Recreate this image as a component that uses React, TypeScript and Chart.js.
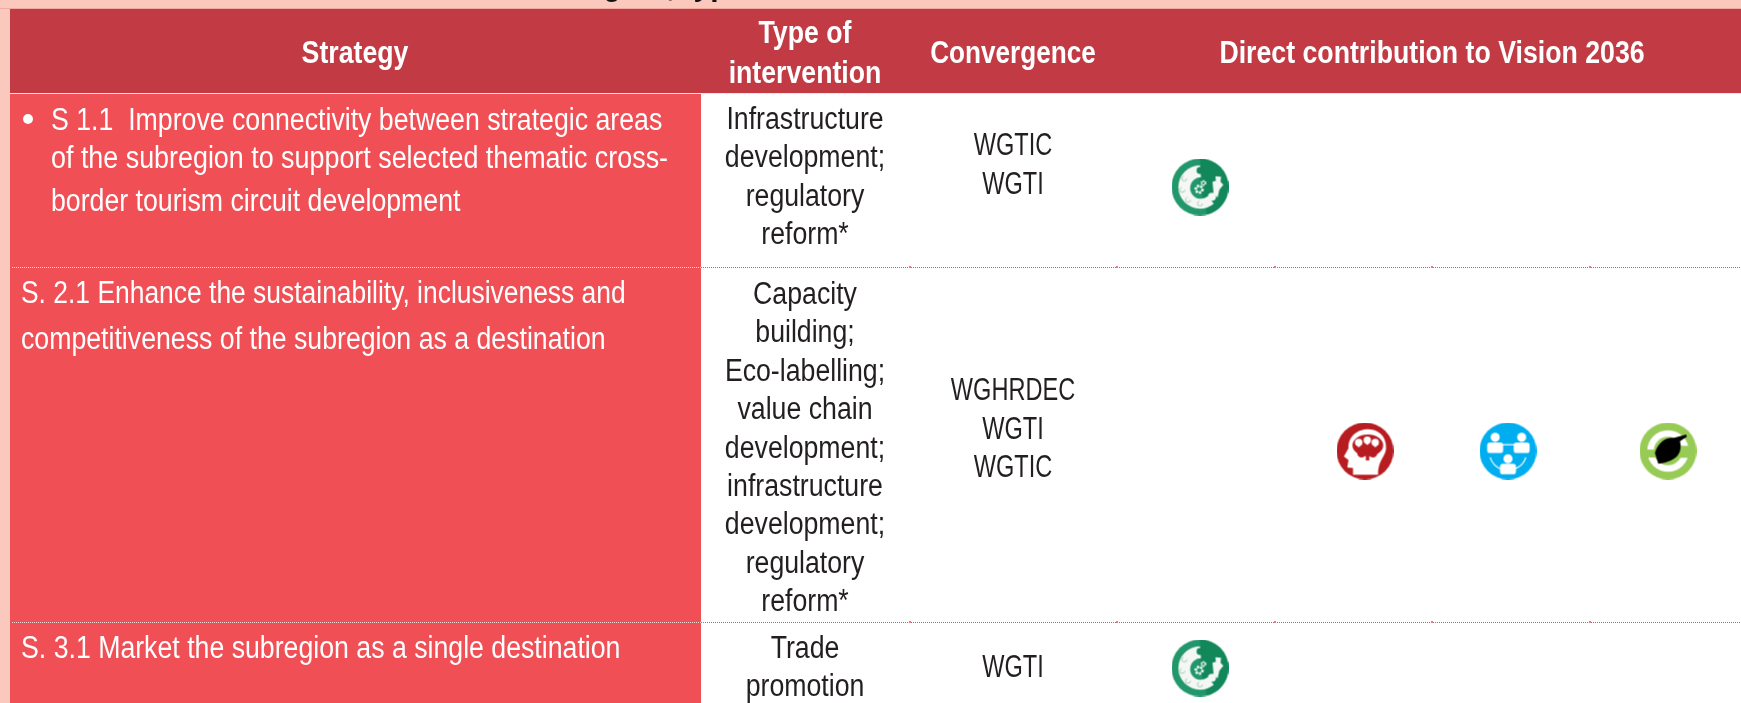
import React, { useEffect, useRef } from "react";
import { Chart, registerables } from "chart.js";
Chart.register(...registerables);

const headerStrategy = "Strategy";
const headerType = ["Type of", "intervention"];
const headerConvergence = "Convergence";
const headerVision = "Direct contribution to Vision 2036";
const clippedTitle = "subregion, type";

const strategyRow1 = [
  "S 1.1  Improve connectivity between strategic areas",
  "of the subregion to support selected thematic cross-",
  "border tourism circuit development",
];
const strategyRow2 = [
  "S. 2.1 Enhance the sustainability, inclusiveness and",
  "competitiveness of the subregion as a destination",
];
const strategyRow3 = ["S. 3.1 Market the subregion as a single destination"];

const typeRow1 = ["Infrastructure", "development;", "regulatory", "reform*"];
const typeRow2 = ["Capacity", "building;", "Eco-labelling;", "value chain", "development;", "infrastructure", "development;", "regulatory", "reform*"];
const typeRow3 = ["Trade", "promotion"];

const convergenceRow1 = ["WGTIC", "WGTI"];
const convergenceRow2 = ["WGHRDEC", "WGTI", "WGTIC"];
const convergenceRow3 = ["WGTI"];

const goalEconomy = [{ x: 1200, y: 187 }, { x: 1200, y: 668 }];
const goalHuman = [{ x: 1365, y: 451 }];
const goalSocial = [{ x: 1508, y: 451 }];
const goalEnvironment = [{ x: 1668, y: 451 }];

const W = 1741;
const H = 703;
const SANS = '"Liberation Sans", sans-serif';
const BODY = `31px ${SANS}`;
const BOLD = `bold 31px ${SANS}`;
const HSCALE = 0.861;
const CAPS_HSCALE = 0.76;
const ICON_R = 28.5;
const TICKS = [910, 1117, 1275, 1432, 1590];

function makeIcon(paint: (c: CanvasRenderingContext2D, R: number) => void) {
  const cv = document.createElement("canvas");
  const size = Math.ceil(ICON_R * 2);
  cv.width = size;
  cv.height = size;
  const c = cv.getContext("2d")!;
  c.translate(size / 2, size / 2);
  paint(c, ICON_R);
  return cv;
}
function disc(c: CanvasRenderingContext2D, x: number, y: number, r: number, col: string) {
  c.fillStyle = col;
  c.beginPath();
  c.arc(x, y, r, 0, Math.PI * 2);
  c.fill();
}
function gear(c: CanvasRenderingContext2D, x: number, y: number, r: number) {
  c.strokeStyle = "#fff";
  c.lineWidth = r * 0.55;
  c.setLineDash([r * 0.55, r * 0.45]);
  c.beginPath();
  c.arc(x, y, r, 0, Math.PI * 2);
  c.stroke();
  c.setLineDash([]);
  c.lineWidth = 1;
  c.beginPath();
  c.arc(x, y, r * 0.75, 0, Math.PI * 2);
  c.stroke();
}
const paintEconomy = (c: CanvasRenderingContext2D, R: number) => {
  disc(c, 0, 0, R, "#21976B");
  c.fillStyle = "#12875A";
  c.beginPath();
  c.arc(0, 0, R, -Math.PI / 2, Math.PI * 0.42);
  c.lineTo(0, 0);
  c.closePath();
  c.fill();
  c.fillStyle = "#F4F7F3";
  c.beginPath();
  c.arc(0, 0, R * 0.76, -Math.PI / 2, Math.PI * 0.28, true);
  c.arc(1, 1, R * 0.38, Math.PI * 0.28, -Math.PI / 2);
  c.closePath();
  c.fill();
  disc(c, 0, -R * 0.58, R * 0.12, "#12875A");
  c.fillStyle = "#F4F7F3";
  c.beginPath();
  c.moveTo(R * 0.44, -R * 0.18);
  c.lineTo(R * 0.56, -R * 0.22);
  c.lineTo(R * 0.54, -R * 0.38);
  c.lineTo(R * 0.74, -R * 0.36);
  c.lineTo(R * 0.72, -R * 0.18);
  c.lineTo(R * 0.82, -R * 0.08);
  c.lineTo(R * 0.68, R * 0.1);
  c.lineTo(R * 0.62, R * 0.36);
  c.lineTo(R * 0.48, R * 0.26);
  c.closePath();
  c.fill();
  disc(c, R * 0.42, R * 0.34, R * 0.14, "#F4F7F3");
  c.strokeStyle = "#A9CDBA";
  c.lineWidth = 1;
  [[-0.55, -0.3], [-0.62, 0.1], [-0.42, 0.45], [0, 0.58]].forEach(([a, b]) => {
    c.beginPath();
    c.arc(a * R, b * R, 2.5, 0, Math.PI * 1.4);
    c.stroke();
  });
  gear(c, -R * 0.03, R * 0.08, R * 0.13);
  gear(c, R * 0.12, -R * 0.14, R * 0.08);
};
const paintHuman = (c: CanvasRenderingContext2D, R: number) => {
  disc(c, 0, 0, R, "#B71C20");
  c.fillStyle = "#fff";
  c.beginPath();
  c.moveTo(-R * 0.42, R * 0.83);
  c.lineTo(-R * 0.42, R * 0.6);
  c.lineTo(-R * 0.62, R * 0.58);
  c.lineTo(-R * 0.58, R * 0.32);
  c.lineTo(-R * 0.74, R * 0.19);
  c.lineTo(-R * 0.58, -R * 0.1);
  c.bezierCurveTo(-R * 0.6, -R * 0.95, R * 0.76, -R * 1.0, R * 0.74, -R * 0.12);
  c.bezierCurveTo(R * 0.74, R * 0.2, R * 0.46, R * 0.3, R * 0.46, R * 0.83);
  c.closePath();
  c.fill();
  c.fillStyle = "#B71C20";
  c.beginPath();
  c.ellipse(R * 0.1, -R * 0.2, R * 0.54, R * 0.38, 0, 0, Math.PI * 2);
  c.fill();
  disc(c, -R * 0.12, R * 0.08, R * 0.15, "#B71C20");
  disc(c, R * 0.28, R * 0.08, R * 0.15, "#B71C20");
  c.fillRect(R * 0.03, R * 0.05, R * 0.12, R * 0.28);
  [[-0.22, -0.3], [0.08, -0.38], [0.36, -0.3]].forEach(([x, y]) => {
    disc(c, x * R, y * R, R * 0.13, "#fff");
    c.fillStyle = "#fff";
    c.fillRect(x * R - 1, y * R, 2, R * 0.16);
  });
};
function person(c: CanvasRenderingContext2D, x: number, y: number, R: number) {
  disc(c, x, y - R * 0.24, R * 0.16, "#fff");
  c.fillStyle = "#fff";
  c.beginPath();
  c.roundRect(x - R * 0.28, y - R * 0.06, R * 0.56, R * 0.37, R * 0.1);
  c.fill();
}
const paintSocial = (c: CanvasRenderingContext2D, R: number) => {
  disc(c, 0, 0, R, "#00AEEF");
  c.strokeStyle = "#fff";
  c.lineWidth = 1.2;
  c.beginPath();
  c.moveTo(-R * 0.3, -R * 0.22);
  c.lineTo(R * 0.3, -R * 0.22);
  c.stroke();
  c.beginPath();
  c.arc(0, R * 0.02, R * 0.66, Math.PI * 0.1, Math.PI * 0.9);
  c.stroke();
  person(c, -R * 0.45, -R * 0.24, R);
  person(c, R * 0.48, -R * 0.24, R);
  person(c, 0, R * 0.51, R);
};
const paintEnvironment = (c: CanvasRenderingContext2D, R: number) => {
  disc(c, 0, 0, R, "#97CB55");
  disc(c, 0, 0, R * 0.73, "#fff");
  c.fillStyle = "#97CB55";
  c.fillRect(-R * 0.76, -R * 0.05, R * 0.36, R * 0.28);
  c.fillRect(R * 0.4, -R * 0.18, R * 0.36, R * 0.42);
  disc(c, 0, 0, R * 0.5, "#97CB55");
  c.fillStyle = "#000";
  c.beginPath();
  c.moveTo(-R * 0.46, R * 0.07);
  c.bezierCurveTo(-R * 0.35, -R * 0.28, -R * 0.1, -R * 0.48, R * 0.19, -R * 0.46);
  c.lineTo(R * 0.64, -R * 0.58);
  c.lineTo(R * 0.66, -R * 0.5);
  c.lineTo(R * 0.42, -R * 0.34);
  c.bezierCurveTo(R * 0.5, R * 0.0, R * 0.4, R * 0.36, -R * 0.34, R * 0.45);
  c.closePath();
  c.fill();
};

const tablePlugin = {
  id: "tablePlugin",
  beforeDatasetsDraw(chart: any) {
    const { ctx, scales } = chart;
    const X = (v: number) => scales.x.getPixelForValue(v);
    const Y = (v: number) => scales.y.getPixelForValue(v);
    const rect = (x0: number, y0: number, x1: number, y1: number, col: string) => {
      ctx.fillStyle = col;
      ctx.fillRect(X(x0), Y(y0), X(x1) - X(x0), Y(y1) - Y(y0));
    };
    const text = (t: string, x: number, y: number, font: string, col: string, align: CanvasTextAlign = "center", hs: number = HSCALE) => {
      ctx.save();
      ctx.font = font;
      ctx.fillStyle = col;
      ctx.textAlign = align;
      ctx.textBaseline = "alphabetic";
      ctx.translate(X(x), Y(y));
      ctx.scale(hs, 1);
      ctx.fillText(t, 0, 0);
      ctx.restore();
    };
    ctx.save();
    rect(0, 0, W, H, "#FBC8BE");
    text(clippedTitle, 521, -5, `bold 35px ${SANS}`, "#111111", "left");
    rect(0, 8, W, 9, "#F4A99E");
    rect(10, 9, W, 93, "#C23B44");
    rect(10, 94, W, H, "#FFFFFF");
    rect(10, 94, 701, H, "#EF4F55");
    rect(10, 93, W, 94, "#FBE3E0");

    text(headerStrategy, 355, 63, BOLD, "#FFFFFF");
    headerType.forEach((l, i) => text(l, 805, [43, 83][i], BOLD, "#FFFFFF"));
    text(headerConvergence, 1013, 63, BOLD, "#FFFFFF", "center", HSCALE * 0.98);
    text(headerVision, 1432, 63, BOLD, "#FFFFFF");

    ctx.fillStyle = "#FFFFFF";
    ctx.beginPath();
    ctx.arc(X(28), Y(119), 5, 0, Math.PI * 2);
    ctx.fill();

    strategyRow1.forEach((l, i) => text(l, 51, [130, 168, 211][i], BODY, "#FFFFFF", "left", i === 1 ? HSCALE * 1.007 : HSCALE));
    strategyRow2.forEach((l, i) => text(l, 21, [303, 349][i], BODY, "#FFFFFF", "left", i === 0 ? HSCALE * 0.99 : HSCALE));
    strategyRow3.forEach((l) => text(l, 21, 658, BODY, "#FFFFFF", "left"));

    const dark = "#231F20";
    typeRow1.forEach((l, i) => text(l, 805, 129 + i * 38.3, BODY, dark));
    typeRow2.forEach((l, i) => text(l, 805, 304 + i * 38.4, BODY, dark));
    typeRow3.forEach((l, i) => text(l, 805, 658 + i * 38, BODY, dark));
    convergenceRow1.forEach((l, i) => text(l, 1013, 155 + i * 38.5, BODY, dark, "center", CAPS_HSCALE));
    convergenceRow2.forEach((l, i) => text(l, 1013, 400 + i * 38.5, BODY, dark, "center", CAPS_HSCALE));
    convergenceRow3.forEach((l) => text(l, 1013, 677, BODY, dark, "center", CAPS_HSCALE));

    [267, 622].forEach((sy) => {
      ctx.lineWidth = 1;
      ctx.setLineDash([1, 1]);
      ctx.strokeStyle = "#FBD9D6";
      ctx.beginPath();
      ctx.moveTo(X(12), Y(sy) + 0.5);
      ctx.lineTo(X(701), Y(sy) + 0.5);
      ctx.stroke();
      ctx.strokeStyle = "#EF4F55";
      ctx.beginPath();
      ctx.moveTo(X(701), Y(sy) + 0.5);
      ctx.lineTo(X(W), Y(sy) + 0.5);
      ctx.stroke();
      ctx.setLineDash([]);
      TICKS.forEach((tx) => rect(tx - 1, sy - 1, tx + 1, sy + 1, "#F27A7F"));
    });
    ctx.restore();
  },
};

export default function App() {
  const ref = useRef<HTMLCanvasElement>(null);
  useEffect(() => {
    document.body.style.margin = "0";
    const pointDefaults = { radius: ICON_R, hoverRadius: ICON_R, borderWidth: 0, clip: false };
    const chart = new Chart(ref.current!, {
      type: "scatter",
      data: {
        datasets: [
          { label: "Economy", data: goalEconomy, pointStyle: makeIcon(paintEconomy), ...pointDefaults },
          { label: "Human", data: goalHuman, pointStyle: makeIcon(paintHuman), ...pointDefaults },
          { label: "Social", data: goalSocial, pointStyle: makeIcon(paintSocial), ...pointDefaults },
          { label: "Environment", data: goalEnvironment, pointStyle: makeIcon(paintEnvironment), ...pointDefaults },
        ],
      },
      options: {
        animation: false,
        responsive: false,
        devicePixelRatio: 1,
        layout: { padding: 0, autoPadding: false },
        plugins: { legend: { display: false }, tooltip: { enabled: false }, title: { display: false } },
        scales: {
          x: { type: "linear", min: 0, max: W, display: false },
          y: { type: "linear", min: 0, max: H, reverse: true, display: false },
        },
      },
      plugins: [tablePlugin],
    } as any);
    return () => chart.destroy();
  }, []);
  return <canvas ref={ref} width={W} height={H} style={{ display: "block", width: W, height: H }} />;
}
